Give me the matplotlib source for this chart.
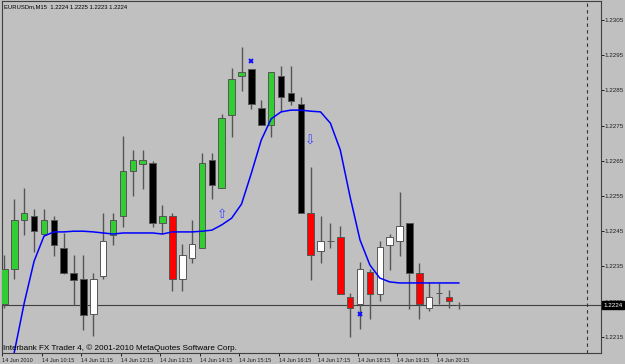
import numpy as np
import matplotlib
matplotlib.use("Agg")
import matplotlib.pyplot as plt
import matplotlib.transforms as mtransforms

plt.rcParams['font.family'] = ['Liberation Sans', 'DejaVu Sans']

# EURUSDm M15 candles, 14 Jun 2010 from 09:15
opens = [1.22243, 1.22343, 1.22482, 1.22493, 1.22442, 1.22482, 1.22402, 1.22331,
         1.22314, 1.22215, 1.22323, 1.22439, 1.22493, 1.22621, 1.22641, 1.22644,
         1.22473, 1.22493, 1.22314, 1.22374, 1.22402, 1.22652, 1.22573, 1.22780,
         1.22891, 1.22911, 1.22800, 1.22752, 1.22891, 1.22843, 1.22811, 1.22502,
         1.22394, 1.22422, 1.22434, 1.22263, 1.22243, 1.22334, 1.22272, 1.22411,
         1.22422, 1.22473, 1.22331, 1.22232, 1.22274, 1.22263, 1.22240]
highs = [1.22382, 1.22542, 1.22573, 1.22513, 1.22513, 1.22493, 1.22445, 1.22382,
         1.22382, 1.22331, 1.22502, 1.22502, 1.22720, 1.22681, 1.22681, 1.22649,
         1.22524, 1.22502, 1.22414, 1.22482, 1.22672, 1.22672, 1.22783, 1.22914,
         1.22973, 1.22911, 1.22823, 1.22902, 1.22919, 1.22919, 1.22831, 1.22632,
         1.22493, 1.22473, 1.22465, 1.22274, 1.22362, 1.22343, 1.22422, 1.22442,
         1.22561, 1.22473, 1.22360, 1.22306, 1.22303, 1.22283, 1.22250]
lows = [1.22232, 1.22314, 1.22439, 1.22391, 1.22439, 1.22380, 1.22328, 1.22240,
        1.22169, 1.22152, 1.22314, 1.22411, 1.22462, 1.22550, 1.22570, 1.22462,
        1.22445, 1.22280, 1.22280, 1.22360, 1.22402, 1.22542, 1.22573, 1.22718,
        1.22848, 1.22797, 1.22752, 1.22718, 1.22789, 1.22809, 1.22502, 1.22311,
        1.22360, 1.22402, 1.22272, 1.22149, 1.22172, 1.22201, 1.22252, 1.22340,
        1.22380, 1.22229, 1.22201, 1.22223, 1.22243, 1.22232, 1.22230]
closes = [1.22343, 1.22482, 1.22502, 1.22450, 1.22482, 1.22411, 1.22331, 1.22311,
          1.22212, 1.22314, 1.22422, 1.22482, 1.22621, 1.22652, 1.22652, 1.22473,
          1.22493, 1.22314, 1.22382, 1.22414, 1.22644, 1.22581, 1.22772, 1.22882,
          1.22902, 1.22811, 1.22752, 1.22902, 1.22831, 1.22820, 1.22502, 1.22382,
          1.22422, 1.22422, 1.22272, 1.22232, 1.22343, 1.22272, 1.22405, 1.22434,
          1.22465, 1.22331, 1.22243, 1.22263, 1.22274, 1.22252, 1.22240]
candle_kind = ['g', 'g', 'g', 'k', 'g', 'k', 'k', 'k', 'k', 'w', 'w', 'g', 'g', 'g',
               'g', 'k', 'g', 'r', 'w', 'w', 'g', 'k', 'g', 'g', 'g', 'k', 'k', 'g',
               'k', 'k', 'k', 'r', 'w', 'w', 'r', 'r', 'w', 'r', 'w', 'w', 'w', 'k',
               'r', 'w', 'w', 'r', 'w']
ma_line = [1.21900, 1.22107, 1.22246, 1.22365, 1.22436, 1.22448, 1.22448, 1.22450,
           1.22450, 1.22448, 1.22445, 1.22442, 1.22445, 1.22445, 1.22445, 1.22445,
           1.22442, 1.22448, 1.22448, 1.22448, 1.22450, 1.22453, 1.22468, 1.22487,
           1.22527, 1.22615, 1.22709, 1.22769, 1.22789, 1.22794, 1.22794, 1.22791,
           1.22789, 1.22757, 1.22681, 1.22547, 1.22425, 1.22354, 1.22317, 1.22306,
           1.22303, 1.22303, 1.22303, 1.22303, 1.22303, 1.22303, 1.22303]

up_arrow = (22, 1.22498)
down_arrow = (31, 1.22706)
cross_bars = [25, 36]
cross_prices = [1.22934, 1.22215]

price_ticks = [1.2215, 1.2225, 1.2235, 1.2245, 1.2255, 1.2265, 1.2275, 1.2285, 1.2295, 1.2305]
time_labels = ['14 Jun 2010', '14 Jun 10:15', '14 Jun 11:15', '14 Jun 12:15',
               '14 Jun 13:15', '14 Jun 14:15', '14 Jun 15:15', '14 Jun 16:15',
               '14 Jun 17:15', '14 Jun 18:15', '14 Jun 19:15', '14 Jun 20:15']
last_price = 1.2224
header = 'EURUSDm,M15  1.2224 1.2225 1.2223 1.2224'
footer = 'Interbank FX Trader 4, \u00a9 2001-2010 MetaQuotes Software Corp.'

colors = {'g': '#32cd32', 'k': '#000000', 'w': '#ffffff', 'r': '#ff0000'}
bg = '#c0c0c0'

W, H = 625, 364
fig = plt.figure(figsize=(W / 100, H / 100), dpi=100, facecolor=bg)
ax = fig.add_axes([2 / W, (H - 353) / H, 599 / W, 352 / H], facecolor=bg)

x = np.arange(len(opens))
o = np.array(opens)
c = np.array(closes)

ax.axhline(last_price, color='#404040', lw=0.8, zorder=1)
ax.axvline(59, color='#303040', lw=0.8, ls=(0, (3, 3)), zorder=1)

ax.vlines(x, lows, highs, color='#555555', lw=1.0, zorder=2)
ax.bar(x, np.abs(c - o), bottom=np.minimum(o, c), width=0.66,
       color=[colors[k] for k in candle_kind], edgecolor='#555555',
       linewidth=0.7, zorder=3)

ax.plot(x, ma_line, color='#0000ff', lw=1.1, zorder=4)

ax.text(up_arrow[0], up_arrow[1], '\u21e7', family='DejaVu Sans', fontsize=9,
        color='#4040ff', ha='center', va='center', zorder=5)
ax.text(down_arrow[0], down_arrow[1], '\u21e9', family='DejaVu Sans', fontsize=9,
        color='#4040ff', ha='center', va='center', zorder=5)
ax.plot(cross_bars, cross_prices, ls='none', marker='x', ms=3.5, mew=1.4,
        color='#1010ff', zorder=5)

ax.set_xlim(-0.1, 60.4)
ax.set_ylim(1.22104, 1.23104)

ax.yaxis.tick_right()
ax.set_yticks(price_ticks)
ax.set_yticklabels(['%.4f' % p for p in price_ticks])
ax.tick_params(axis='y', direction='out', length=2, width=0.7, pad=0.6,
               labelsize=4.5, colors='#202020')

ax.set_xticks([4 * k - 0.25 for k in range(len(time_labels))])
ax.set_xticklabels(time_labels, ha='left')
ax.tick_params(axis='x', direction='out', length=2.5, width=0.7, pad=1,
               labelsize=4.0, colors='#202020')

for s in ax.spines.values():
    s.set_color('#404040')
    s.set_linewidth(0.8)

trans = mtransforms.blended_transform_factory(ax.transAxes, ax.transData)
ax.text(1.004, last_price, '%.4f' % last_price, transform=trans, fontsize=4.5,
        color='white', ha='left', va='center',
        bbox=dict(boxstyle='square,pad=0.2', fc='black', ec='black'))

fig.text(4 / W, 1 - 7 / H, header, fontsize=4.2, va='center', ha='left')
fig.text(3 / W, 1 - 348 / H, footer, fontsize=5.85, va='center', ha='left')

fig.savefig('out.png', dpi=100, facecolor=bg)
